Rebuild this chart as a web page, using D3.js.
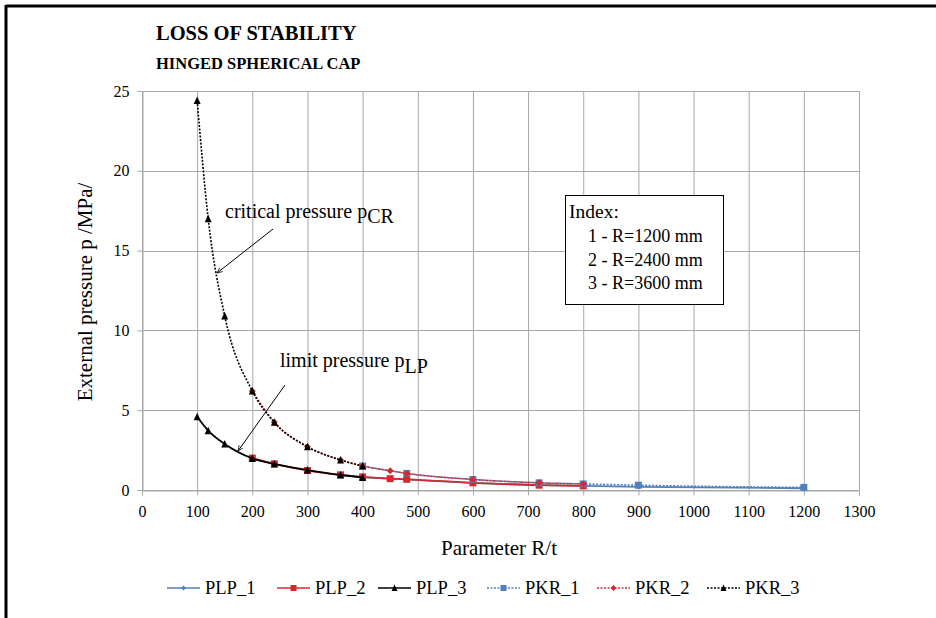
<!DOCTYPE html>
<html><head><meta charset="utf-8">
<script src="https://cdn.jsdelivr.net/npm/d3@7"></script>
<style>html,body{margin:0;padding:0;background:#fff}svg text{font-family:"Liberation Serif","Tinos","Times New Roman","DejaVu Serif",serif !important}</style>
</head><body><svg id="c" width="936" height="618"></svg>
<script>
const xTicks=[0,100,200,300,400,500,600,700,800,900,1000,1100,1200,1300];
const yTicks=[0,5,10,15,20,25];
const seriesNames=["PLP_1","PLP_2","PLP_3","PKR_1","PKR_2","PKR_3"];
const x1=[400,480,600,720,800,900,1200];
const x2=[200,240,300,360,400,450,480,600,720,800];
const x3=[100,120,150,200,240,300,360,400];
const plp1=[0.80,0.66,0.45,0.31,0.26,0.20,0.11];
const pkr1=[1.50,1.04,0.66,0.45,0.38,0.30,0.16];
const plp2=[2.00,1.64,1.22,0.95,0.82,0.71,0.67,0.45,0.30,0.26];
const pkr2=[6.20,4.25,2.71,1.88,1.50,1.21,1.04,0.66,0.45,0.38];
const plp3=[4.59,3.72,2.88,1.98,1.63,1.25,0.94,0.79];
const pkr3=[24.4,17.0,10.9,6.20,4.24,2.71,1.88,1.50];

const FF="'Liberation Serif','Tinos','Times New Roman','DejaVu Serif',serif";
const svg=d3.select("#c").attr("font-family",FF);
const L=142,R=859,T=91,B=490;
const x=d3.scaleLinear().domain([0,1300]).range([L,R]);
const y=d3.scaleLinear().domain([0,25]).range([B,T]);
const grid="#a8a8a8";
svg.append("line").attr("x1",6).attr("x2",936).attr("y1",6).attr("y2",6).attr("stroke","#000").attr("stroke-width",3);
svg.append("line").attr("x1",6).attr("x2",6).attr("y1",5).attr("y2",618).attr("stroke","#000").attr("stroke-width",3);
svg.append("g").selectAll("line").data(xTicks).join("line")
 .attr("x1",d=>x(d)+0.5).attr("x2",d=>x(d)+0.5).attr("y1",T).attr("y2",B).attr("stroke",grid);
svg.append("g").selectAll("line").data(yTicks).join("line")
 .attr("x1",L).attr("x2",R).attr("y1",d=>Math.round(y(d))+0.5).attr("y2",d=>Math.round(y(d))+0.5).attr("stroke",grid);
const ax=svg.append("g").attr("transform",`translate(0,${Math.round(B)+0.5})`).call(d3.axisBottom(x).tickValues(xTicks).tickFormat(d3.format("d")).tickSize(5).tickPadding(10));
const ay=svg.append("g").attr("transform",`translate(${L+0.5},0)`).call(d3.axisLeft(y).tickValues(yTicks).tickFormat(d3.format("d")).tickSize(5).tickPadding(8));
[ax,ay].forEach(a=>{a.attr("font-family",FF).attr("font-size",16);a.select(".domain").attr("stroke",grid);a.selectAll(".tick line").attr("stroke",grid);
 a.selectAll("text").attr("fill","#000");});
svg.append("text").attr("x",156).attr("y",40).attr("font-size",20.5).attr("font-weight","bold").text("LOSS OF STABILITY");
svg.append("text").attr("x",156).attr("y",69).attr("font-size",16.5).attr("font-weight","bold").text("HINGED SPHERICAL CAP");
svg.append("text").attr("x",499).attr("y",555).attr("text-anchor","middle").attr("font-size",21).text("Parameter R/t");
svg.append("text").attr("transform","translate(92,292) rotate(-90)").attr("text-anchor","middle").attr("font-size",21).text("External pressure p /MPa/");

const blue="#4f81bd",red="#d42a2f",black="#000";
const series=[
 {n:seriesNames[0],xs:x1,ys:plp1,c:blue,dash:null,m:"diamond",ms:5},
 {n:seriesNames[1],xs:x2,ys:plp2,c:red,dash:null,m:"square",ms:7},
 {n:seriesNames[2],xs:x3,ys:plp3,c:black,dash:null,m:"triangle",ms:7},
 {n:seriesNames[3],xs:x1,ys:pkr1,c:blue,dash:"2,1.5",m:"square",ms:7},
 {n:seriesNames[4],xs:x2,ys:pkr2,c:red,dash:"2,1.5",m:"diamond",ms:7},
 {n:seriesNames[5],xs:x3,ys:pkr3,c:black,dash:"2,1.5",m:"triangle",ms:7}];
const line=d3.line().x(d=>x(d[0])).y(d=>y(d[1])).curve(d3.curveMonotoneX);
function marker(g,type,cx,cy,s,c){
 if(type==="square") g.append("rect").attr("x",cx-s/2).attr("y",cy-s/2).attr("width",s).attr("height",s).attr("fill",c);
 else if(type==="diamond") g.append("path").attr("d",`M${cx},${cy-s/2}L${cx+s/2},${cy}L${cx},${cy+s/2}L${cx-s/2},${cy}Z`).attr("fill",c);
 else g.append("path").attr("d",`M${cx},${cy-s/2-0.5}L${cx+s/2},${cy+s/2}L${cx-s/2},${cy+s/2}Z`).attr("fill",c);
}
const plot=svg.append("g");
series.forEach(s=>{
 const pts=s.xs.map((v,i)=>[v,s.ys[i]]);
 plot.append("path").datum(pts).attr("d",line).attr("fill","none").attr("stroke",s.c).attr("stroke-width",s.dash?1.6:1.8).attr("stroke-dasharray",s.dash);
 const mg=plot.append("g");
 pts.forEach(p=>marker(mg,s.m,x(p[0]),y(p[1]),s.ms,s.c));
});
svg.append("text").attr("x",225).attr("y",218).attr("font-size",20).text("critical pressure p").append("tspan").attr("dy",5).text("CR");
svg.append("text").attr("x",280).attr("y",367).attr("font-size",20).text("limit pressure p").append("tspan").attr("dy",6).text("LP");
svg.append("defs").append("marker").attr("id","ar").attr("viewBox","0 0 10 10").attr("refX",9).attr("refY",5)
 .attr("markerWidth",6).attr("markerHeight",6).attr("orient","auto")
 .append("path").attr("d","M0,1L9,5L0,9").attr("fill","none").attr("stroke","#000").attr("stroke-width",1.2);
svg.append("line").attr("x1",273).attr("y1",229).attr("x2",217).attr("y2",273).attr("stroke","#000").attr("marker-end","url(#ar)");
svg.append("line").attr("x1",285).attr("y1",385).attr("x2",238).attr("y2",451).attr("stroke","#000").attr("marker-end","url(#ar)");
const ib=svg.append("g");
ib.append("rect").attr("x",565.5).attr("y",195.5).attr("width",158).attr("height",109).attr("fill","#fff").attr("stroke","#000");
ib.append("text").attr("x",569).attr("y",218).attr("font-size",19.5).text("Index:");
["1 - R=1200 mm","2 - R=2400 mm","3 - R=3600 mm"].forEach((t,i)=>ib.append("text").attr("x",588).attr("y",242+i*23.5).attr("font-size",18).text(t));
const lx=[167,277,378,487,597,707];
series.forEach((s,i)=>{
 const g=svg.append("g");
 g.append("line").attr("x1",lx[i]).attr("x2",lx[i]+33).attr("y1",588).attr("y2",588).attr("stroke",s.c).attr("stroke-width",s.dash?1.4:1.6).attr("stroke-dasharray",s.dash);
 marker(g,s.m,lx[i]+16.5,588,s.m==="diamond"&&!s.dash?5:6,s.c);
 g.append("text").attr("x",lx[i]+38).attr("y",594).attr("font-size",18.5).text(s.n);
});
</script></body></html>
